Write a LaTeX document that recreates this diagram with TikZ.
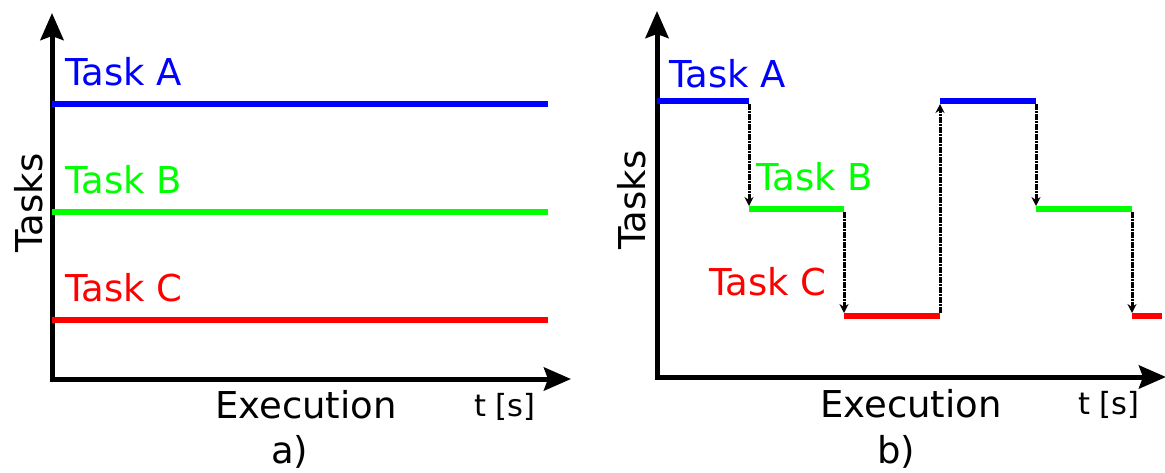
\documentclass[tikz,border=0pt]{standalone}
\usepackage{fontspec}
\setmainfont{DejaVu Sans}
\usetikzlibrary{arrows.meta}
\tikzset{
  axis/.style={line width=5pt, {Stealth[length=27pt, width=23pt, inset=4pt]}-{Stealth[length=27pt, width=23pt, inset=4pt]}},
  level/.style={line width=6pt},
  switch/.style={line width=3pt, dash pattern=on 6pt off 1pt on 2pt off 1pt, -{Stealth[length=9pt, width=9pt]}, shorten <=3pt, shorten >=3pt},
  lbl/.style={anchor=base west, inner sep=0pt, font=\fontsize{37}{42}\selectfont},
  ttl/.style={inner sep=0pt, font=\fontsize{37}{42}\selectfont},
  unit/.style={anchor=base west, inner sep=0pt, font=\fontsize{30.5}{35}\selectfont},
}

\begin{document}
\begin{tikzpicture}[x=1pt, y=-1pt]
\useasboundingbox (0,0) rectangle (1165,472);

% a) tasks side by side
\coordinate (aY) at (52,13);
\coordinate (aO) at (52,379);
\coordinate (aX) at (571,379);
\draw[axis] (aY) -- (aO) -- (aX);
\coordinate (aA0) at (52,104);  \coordinate (aA1) at (548,104);
\coordinate (aB0) at (52,212);  \coordinate (aB1) at (548,212);
\coordinate (aC0) at (52,320);  \coordinate (aC1) at (548,320);
\draw[level, blue] (aA0) -- (aA1);
\draw[level, green] (aB0) -- (aB1);
\draw[level, red] (aC0) -- (aC1);
\node[lbl, blue] (aTA) at (65,85) {Task A};
\node[lbl, green] (aTB) at (65,193) {Task B};
\node[lbl, red] (aTC) at (65,301) {Task C};
\node[ttl, rotate=90, anchor=base] (aTasks) at (42,203) {Tasks};
\node[lbl] (aExec) at (215,418) {Execution};
\node[unit] (aT) at (474,416) {t [s]};
\node[lbl] (aCap) at (271,463) {a)};

% b) tasks one after another
\coordinate (bY) at (657,11);
\coordinate (bO) at (657,377);
\coordinate (bX) at (1166,377);
\draw[axis] (bY) -- (bO) -- (bX);
\coordinate (bA0) at (657,101);  \coordinate (bA1) at (749,101);
\coordinate (bB0) at (749,209);  \coordinate (bB1) at (844,209);
\coordinate (bC0) at (844,316);  \coordinate (bC1) at (940,316);
\coordinate (bA2) at (940,101);  \coordinate (bA3) at (1036,101);
\coordinate (bB2) at (1036,209); \coordinate (bB3) at (1132,209);
\coordinate (bC2) at (1132,316); \coordinate (bC3) at (1162,316);
\draw[level, blue] (bA0) -- (bA1);
\draw[level, green] (bB0) -- (bB1);
\draw[level, red] (bC0) -- (bC1);
\draw[level, blue] (bA2) -- (bA3);
\draw[level, green] (bB2) -- (bB3);
\draw[level, red] (bC2) -- (bC3);
\draw[switch] (bA1) -- (bB0);
\draw[switch] (bB1) -- (bC0);
\draw[switch] (bC1) -- (bA2);
\draw[switch] (bA3) -- (bB2);
\draw[switch] (bB3) -- (bC2);
\node[lbl, blue] (bTA) at (669,87) {Task A};
\node[lbl, green] (bTB) at (756,190) {Task B};
\node[lbl, red] (bTC) at (709,295) {Task C};
\node[ttl, rotate=90, anchor=base] (bTasks) at (645,200) {Tasks};
\node[lbl] (bExec) at (820,417) {Execution};
\node[unit] (bT) at (1078,414) {t [s]};
\node[lbl] (bCap) at (877,463) {b)};
\end{tikzpicture}
\end{document}
